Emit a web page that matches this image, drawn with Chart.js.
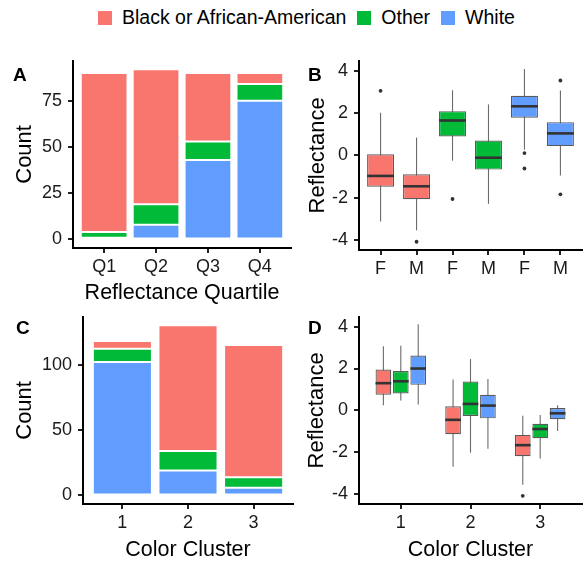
<!DOCTYPE html>
<html>
<head>
<meta charset="utf-8">
<script src="https://cdn.jsdelivr.net/npm/chart.js@4.4.1/dist/chart.umd.min.js"></script>
<style>
  body { margin: 0; background: #fff; width: 587px; height: 563px; position: relative; overflow: hidden;
         font-family: 'Liberation Sans', Arial, sans-serif; }
  canvas { position: absolute; }
  #legend { position: absolute; left: 98px; top: 6px; display: flex; align-items: center;
            font-size: 19.5px; line-height: 23px; color: #000; white-space: nowrap; }
  .item { display: flex; align-items: center; margin-right: 11px; }
  .key { width: 14px; height: 14px; margin-right: 10px; }
</style>
</head>
<body>
<div id="legend"></div>
<canvas id="chartA" width="295" height="262" style="left:0;top:44px"></canvas>
<canvas id="chartB" width="292" height="262" style="left:295px;top:44px"></canvas>
<canvas id="chartC" width="295" height="263" style="left:0;top:300px"></canvas>
<canvas id="chartD" width="292" height="263" style="left:295px;top:300px"></canvas>
<script>
// groups and colours
const raceNames = ['Black or African-American', 'Other', 'White'];
const raceColors = ['#F8766D', '#00BA38', '#619CFF'];

// A: counts by reflectance quartile
const quartileLabels = ['Q1', 'Q2', 'Q3', 'Q4'];
const quartileBlack = [86, 73, 37, 6];
const quartileOther = [3, 11, 10, 9];
const quartileWhite = [1, 8, 43, 75];
const countTicksA = [0, 25, 50, 75];

// B: reflectance by race and sex, [min, q1, median, q3, max]
const sexLabels = ['F', 'M'];
const sexBoxBlack = [[-3.12, -1.48, -0.97, 0.05, 2.02], [-3.54, -2.07, -1.46, -0.89, 0.84]];
const sexBoxOther = [[-0.25, 0.89, 1.65, 2.09, 3.08], [-2.29, -0.67, -0.11, 0.70, 2.41]];
const sexBoxWhite = [[0.27, 1.78, 2.32, 2.82, 4.08], [-0.95, 0.44, 1.04, 1.57, 3.07]];
const sexOutBlack = [[3.05], [-4.08]];
const sexOutOther = [[-2.06], []];
const sexOutWhite = [[0.11, -0.62], [3.54, -1.84]];

// C: counts by color cluster
const clusterLabels = ['1', '2', '3'];
const clusterBlack = [6, 96, 101];
const clusterOther = [10, 15, 8];
const clusterWhite = [102, 19, 6];
const countTicksC = [0, 50, 100];

// D: reflectance by color cluster and race
const clusterBoxBlack = [[0.25, 0.75, 1.30, 1.95, 3.06], [-2.69, -1.14, -0.45, 0.20, 1.47], [-3.55, -2.19, -1.66, -1.17, -0.25]];
const clusterBoxOther = [[0.47, 0.81, 1.39, 1.88, 3.09], [-2.02, -0.27, 0.31, 1.38, 2.45], [-2.30, -1.33, -0.89, -0.64, -0.22]];
const clusterBoxWhite = [[0.28, 1.22, 2.00, 2.62, 4.11], [-1.83, -0.38, 0.23, 0.75, 1.50], [-0.98, -0.42, -0.14, 0.11, 0.25]];
const clusterOutBlack = [[], [], [-4.08]];
const clusterOutOther = [[], [], []];
const clusterOutWhite = [[], [], []];

const reflTicks = [-4, -2, 0, 2, 4];

Chart.defaults.font.family = "'Liberation Sans', Arial, sans-serif";
Chart.defaults.animation = false;

// legend
document.getElementById('legend').innerHTML = raceNames.map((name, i) =>
  `<div class="item"><div class="key" style="background:${raceColors[i]}"></div><span>${name}</span></div>`
).join('');

// whiskers behind the boxes, medians on top
const boxPlugin = {
  id: 'boxParts',
  beforeDatasetsDraw(chart) {
    const ctx = chart.ctx;
    const y = chart.scales.y;
    chart.data.datasets.forEach((ds, di) => {
      if (!ds.stats) return;
      chart.getDatasetMeta(di).data.forEach((bar, i) => {
        const s = ds.stats[i];
        ctx.save();
        ctx.strokeStyle = '#6b6b6b';
        ctx.lineWidth = 1.1;
        ctx.beginPath();
        ctx.moveTo(bar.x, y.getPixelForValue(s[0]));
        ctx.lineTo(bar.x, y.getPixelForValue(s[4]));
        ctx.stroke();
        ctx.restore();
      });
    });
  },
  afterDatasetsDraw(chart) {
    const ctx = chart.ctx;
    const y = chart.scales.y;
    chart.data.datasets.forEach((ds, di) => {
      if (!ds.stats) return;
      chart.getDatasetMeta(di).data.forEach((bar, i) => {
        const py = y.getPixelForValue(ds.stats[i][2]);
        ctx.save();
        ctx.strokeStyle = '#333';
        ctx.lineWidth = 2.6;
        ctx.beginPath();
        ctx.moveTo(bar.x - bar.width / 2, py);
        ctx.lineTo(bar.x + bar.width / 2, py);
        ctx.stroke();
        ctx.restore();
      });
    });
  }
};

const panelLetter = {
  id: 'panelLetter',
  afterDraw(chart, args, opts) {
    const ctx = chart.ctx;
    ctx.save();
    ctx.font = "bold 19px 'Liberation Sans', Arial, sans-serif";
    ctx.fillStyle = '#000';
    ctx.textAlign = 'left';
    ctx.textBaseline = 'alphabetic';
    ctx.fillText(opts.text, opts.x, opts.y);
    ctx.restore();
  }
};

function makeScales(cfg) {
  return {
    x: {
      type: 'linear',
      offset: false,
      min: cfg.xMin,
      max: cfg.xMax,
      afterBuildTicks: s => { s.ticks = cfg.xTicks.map(v => ({ value: v })); },
      afterFit: s => { s.height = cfg.xHeight; },
      ticks: { callback: v => cfg.xLabel(v), color: '#1a1a1a', font: { size: 18 }, padding: 3, maxRotation: 0, autoSkip: false },
      grid: { display: true, offset: false, drawOnChartArea: false, drawTicks: true, tickLength: 5, color: '#222', lineWidth: 2 },
      border: { display: true, color: '#000', width: 2 },
      title: cfg.xTitle
        ? { display: true, text: cfg.xTitle, color: '#000', font: { size: 21.5 }, padding: { top: 0, bottom: 0 } }
        : { display: false }
    },
    y: {
      min: cfg.yMin,
      max: cfg.yMax,
      stacked: cfg.stacked,
      afterBuildTicks: s => { s.ticks = cfg.yTicks.map(v => ({ value: v })); },
      afterFit: s => { s.width = cfg.yWidth; },
      ticks: { callback: v => String(v), color: '#1a1a1a', font: { size: 18 }, padding: 6 },
      grid: { display: true, drawOnChartArea: false, drawTicks: true, tickLength: 5, color: '#222', lineWidth: 2 },
      border: { display: true, color: '#000', width: 2 },
      title: { display: true, text: cfg.yTitle, color: '#000', font: { size: 22 }, padding: { top: cfg.yTitlePad, bottom: 0 } }
    }
  };
}

function baseOptions(scales, padding, letter) {
  return {
    responsive: false,
    animation: false,
    layout: { padding },
    plugins: { legend: { display: false }, tooltip: { enabled: false }, panelLetter: letter },
    scales
  };
}

function stackedSets(white, other, black) {
  // ggplot stacks the first level on top, so White goes in first
  return [[white, 2], [other, 1], [black, 0]].map(([vals, ci]) => ({
    label: raceNames[ci],
    data: vals.map((v, i) => ({ x: i + 1, y: v })),
    backgroundColor: raceColors[ci],
    borderColor: 'rgba(255,255,255,0.75)',
    borderWidth: 1,
    borderSkipped: false,
    grouped: false,
    barPercentage: 0.9,
    categoryPercentage: 1
  }));
}

function boxSets(boxes, outliers, posOf, barPct) {
  const sets = [];
  boxes.forEach((groupBoxes, ci) => {
    sets.push({
      type: 'bar',
      label: raceNames[ci],
      data: groupBoxes.map((s, j) => ({ x: posOf(ci, j), y: [s[1], s[3]] })),
      stats: groupBoxes,
      backgroundColor: raceColors[ci],
      borderColor: '#5a5a5a',
      borderWidth: 1.2,
      borderSkipped: false,
      grouped: false,
      barPercentage: barPct,
      categoryPercentage: 1
    });
  });
  const pts = [];
  outliers.forEach((groupOut, ci) => groupOut.forEach((vals, j) =>
    vals.forEach(v => pts.push({ x: posOf(ci, j), y: v }))));
  sets.push({
    type: 'scatter',
    label: 'outliers',
    data: pts,
    backgroundColor: '#333',
    borderColor: '#333',
    pointRadius: 1.9,
    borderWidth: 0
  });
  return sets;
}

// A
new Chart(document.getElementById('chartA'), {
  type: 'bar',
  data: { datasets: stackedSets(quartileWhite, quartileOther, quartileBlack) },
  options: baseOptions(makeScales({
    xMin: 0.4, xMax: 4.6, xTicks: [1, 2, 3, 4], xLabel: v => quartileLabels[v - 1],
    xTitle: 'Reflectance Quartile', xHeight: 58,
    yMin: -4.6, yMax: 96.6, yTicks: countTicksA, stacked: true,
    yTitle: 'Count', yWidth: 73, yTitlePad: 12
  }), { top: 16, right: 4, left: 0, bottom: 0 }, { text: 'A', x: 13, y: 37 }),
  plugins: [panelLetter]
});

// B
new Chart(document.getElementById('chartB'), {
  type: 'bar',
  data: { datasets: boxSets([sexBoxBlack, sexBoxOther, sexBoxWhite], [sexOutBlack, sexOutOther, sexOutWhite],
    (ci, j) => ci * 2 + j + 1, 0.75) },
  options: baseOptions(makeScales({
    xMin: 0.4, xMax: 6.6, xTicks: [1, 2, 3, 4, 5, 6], xLabel: v => sexLabels[(v - 1) % 2],
    xTitle: null, xHeight: 56,
    yMin: -4.47, yMax: 4.47, yTicks: reflTicks, stacked: false,
    yTitle: 'Reflectance', yWidth: 64, yTitlePad: 10
  }), { top: 16, right: 5, left: 0, bottom: 0 }, { text: 'B', x: 13, y: 37 }),
  plugins: [boxPlugin, panelLetter]
});

// C
new Chart(document.getElementById('chartC'), {
  type: 'bar',
  data: { datasets: stackedSets(clusterWhite, clusterOther, clusterBlack) },
  options: baseOptions(makeScales({
    xMin: 0.4, xMax: 3.6, xTicks: [1, 2, 3], xLabel: v => clusterLabels[v - 1],
    xTitle: 'Color Cluster', xHeight: 59,
    yMin: -6.5, yMax: 136.5, yTicks: countTicksC, stacked: true,
    yTitle: 'Count', yWidth: 83, yTitlePad: 12
  }), { top: 13, right: 2, left: 0, bottom: 0 }, { text: 'C', x: 16, y: 34 }),
  plugins: [panelLetter]
});

// D
new Chart(document.getElementById('chartD'), {
  type: 'bar',
  data: { datasets: boxSets([clusterBoxBlack, clusterBoxOther, clusterBoxWhite], [clusterOutBlack, clusterOutOther, clusterOutWhite],
    (ci, j) => j + 1 + (ci - 1) * 0.25, 0.9) },
  options: baseOptions(makeScales({
    xMin: 0.4, xMax: 3.6, xTicks: [1, 2, 3], xLabel: v => clusterLabels[v - 1],
    xTitle: 'Color Cluster', xHeight: 59,
    yMin: -4.47, yMax: 4.47, yTicks: reflTicks, stacked: false,
    yTitle: 'Reflectance', yWidth: 64, yTitlePad: 9
  }), { top: 13, right: 5, left: 0, bottom: 0 }, { text: 'D', x: 13, y: 34 }),
  plugins: [boxPlugin, panelLetter]
});
</script>
</body>
</html>
